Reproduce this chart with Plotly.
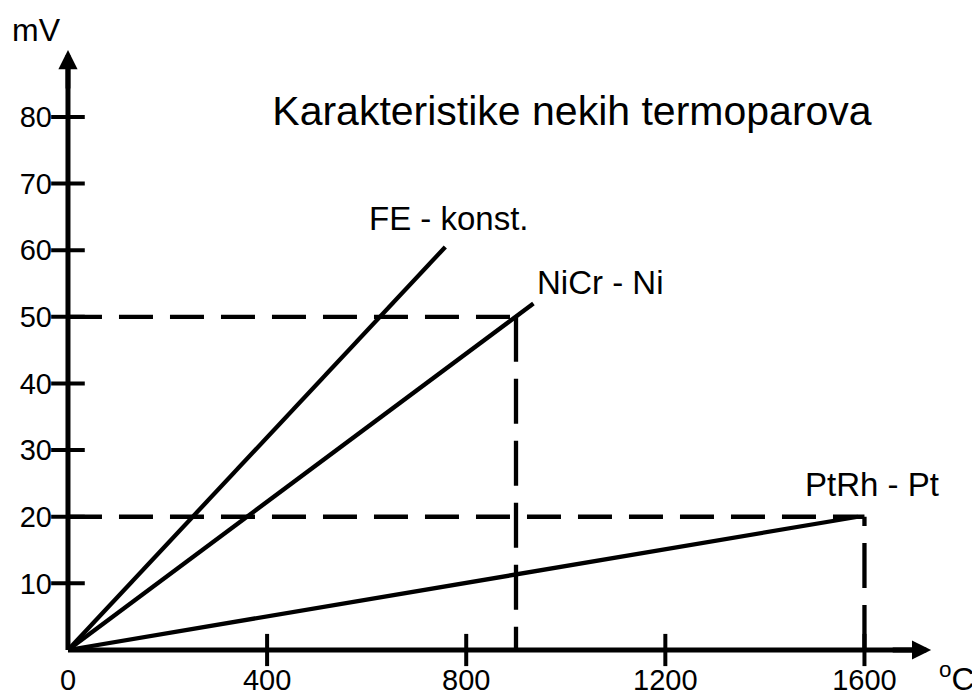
import plotly.graph_objects as go

# ---------------- data ----------------
fe_x = [0, 758]
fe_y = [0, 60.5]
nicr_x = [0, 935]
nicr_y = [0, 52]
ptrh_x = [0, 1587]
ptrh_y = [0, 20]

guide_x = [900, 1600]   # dashed read-off points (°C)
guide_y = [50, 20]      # (mV)

x_ticks = [0, 400, 800, 1200, 1600]
y_ticks = [10, 20, 30, 40, 50, 60, 70, 80]

series_labels = ["FE - konst.", "NiCr - Ni", "PtRh - Pt"]
label_x = [765, 1069, 1615]
label_y = [64.8, 55.1, 24.8]

title_text = "Karakteristike nekih termoparova"
y_unit = "mV"
x_unit = "<sup>o</sup>C"

# ---------------- layout constants ----------------
FONT = "Liberation Sans, Arial, sans-serif"
PX_PER_X = 0.4978      # px per °C
PX_PER_Y = 6.6625      # px per mV
X_RANGE = [-120.5, -120.5 + 980 / PX_PER_X]
Y_RANGE = [96.36 - 693 / PX_PER_Y, 96.36]
X_AXIS_END = 1734
Y_AXIS_END = 90.06

fig = go.Figure()

# axis lines
fig.add_trace(go.Scatter(x=[0, 0], y=[0, Y_AXIS_END - 10 / PX_PER_Y],
                         mode="lines", line=dict(color="black", width=5),
                         hoverinfo="skip", showlegend=False))
fig.add_trace(go.Scatter(x=[0, X_AXIS_END - 10 / PX_PER_X], y=[0, 0],
                         mode="lines", line=dict(color="black", width=5),
                         hoverinfo="skip", showlegend=False))

line_style = dict(color="black", width=4.3)
for xs, ys in [(fe_x, fe_y), (nicr_x, nicr_y), (ptrh_x, ptrh_y)]:
    fig.add_trace(go.Scatter(x=xs, y=ys, mode="lines", line=line_style,
                             hoverinfo="skip", showlegend=False))

# dashed guides
for i, (gx, gy) in enumerate(zip(guide_x, guide_y)):
    fig.add_trace(go.Scatter(x=[0, gx], y=[gy, gy], mode="lines",
                             line=dict(color="black", width=4.3, dash="34px,17px"),
                             hoverinfo="skip", showlegend=False))
    if i == 0:
        vx, vy = [gx, gx], [gy, 0]
    else:
        vx, vy = [gx, gx], [0, gy]
    fig.add_trace(go.Scatter(x=vx, y=vy, mode="lines",
                             line=dict(color="black", width=4.3, dash="45px,17px"),
                             hoverinfo="skip", showlegend=False))

# tick marks crossing the axes
fig.add_trace(go.Scatter(x=[0] * len(y_ticks), y=y_ticks, mode="markers",
                         marker=dict(symbol="line-ew", size=24,
                                     line=dict(color="black", width=4)),
                         hoverinfo="skip", showlegend=False, cliponaxis=False))
fig.add_trace(go.Scatter(x=x_ticks[1:], y=[0] * (len(x_ticks) - 1), mode="markers",
                         marker=dict(symbol="line-ns", size=23,
                                     line=dict(color="black", width=4)),
                         hoverinfo="skip", showlegend=False, cliponaxis=False))

annotations = []
# arrowheads at the axis ends
annotations.append(dict(x=0, y=Y_AXIS_END, ax=0, ay=Y_AXIS_END - 40 / PX_PER_Y,
                        xref="x", yref="y", axref="x", ayref="y", text="",
                        showarrow=True, arrowhead=2, arrowsize=0.8, arrowwidth=4.8,
                        arrowcolor="black", standoff=0, startstandoff=0))
annotations.append(dict(x=X_AXIS_END, y=0, ax=X_AXIS_END - 40 / PX_PER_X, ay=0,
                        xref="x", yref="y", axref="x", ayref="y", text="",
                        showarrow=True, arrowhead=2, arrowsize=0.8, arrowwidth=4.8,
                        arrowcolor="black", standoff=0, startstandoff=0))

for t, lx, ly in zip(series_labels, label_x, label_y):
    annotations.append(dict(x=lx, y=ly, xref="x", yref="y", text=t,
                            showarrow=False, xanchor="center", yanchor="middle",
                            font=dict(family=FONT, size=33, color="black")))

annotations.append(dict(x=-64, y=93.06, xref="x", yref="y", text=y_unit,
                        showarrow=False, xanchor="center", yanchor="middle",
                        font=dict(family=FONT, size=32, color="black")))
annotations.append(dict(x=1745, y=-4.0, xref="x", yref="y", text=x_unit,
                        showarrow=False, xanchor="left", yanchor="middle",
                        font=dict(family=FONT, size=32, color="black")))

fig.update_layout(
    width=980, height=693,
    margin=dict(l=0, r=0, t=0, b=0),
    paper_bgcolor="white", plot_bgcolor="white",
    showlegend=False,
    title=dict(text=title_text, x=0.5755, xanchor="center",
               y=0.8514, yanchor="middle",
               font=dict(family=FONT, size=41, color="black")),
    annotations=annotations,
    xaxis=dict(range=X_RANGE, anchor="free",
               position=(0 - Y_RANGE[0]) / (Y_RANGE[1] - Y_RANGE[0]),
               tickvals=x_ticks, ticktext=[str(v) for v in x_ticks],
               showgrid=False, zeroline=False, showline=False, ticks="",
               ticklabelstandoff=10, automargin=False,
               tickfont=dict(family=FONT, size=29, color="black")),
    yaxis=dict(range=Y_RANGE, anchor="free",
               position=(0 - X_RANGE[0]) / (X_RANGE[1] - X_RANGE[0]),
               tickvals=y_ticks, ticktext=[str(v) for v in y_ticks],
               showgrid=False, zeroline=False, showline=False, ticks="",
               ticklabelstandoff=16, automargin=False,
               tickfont=dict(family=FONT, size=29, color="black")),
)

fig.write_html("out.html")
